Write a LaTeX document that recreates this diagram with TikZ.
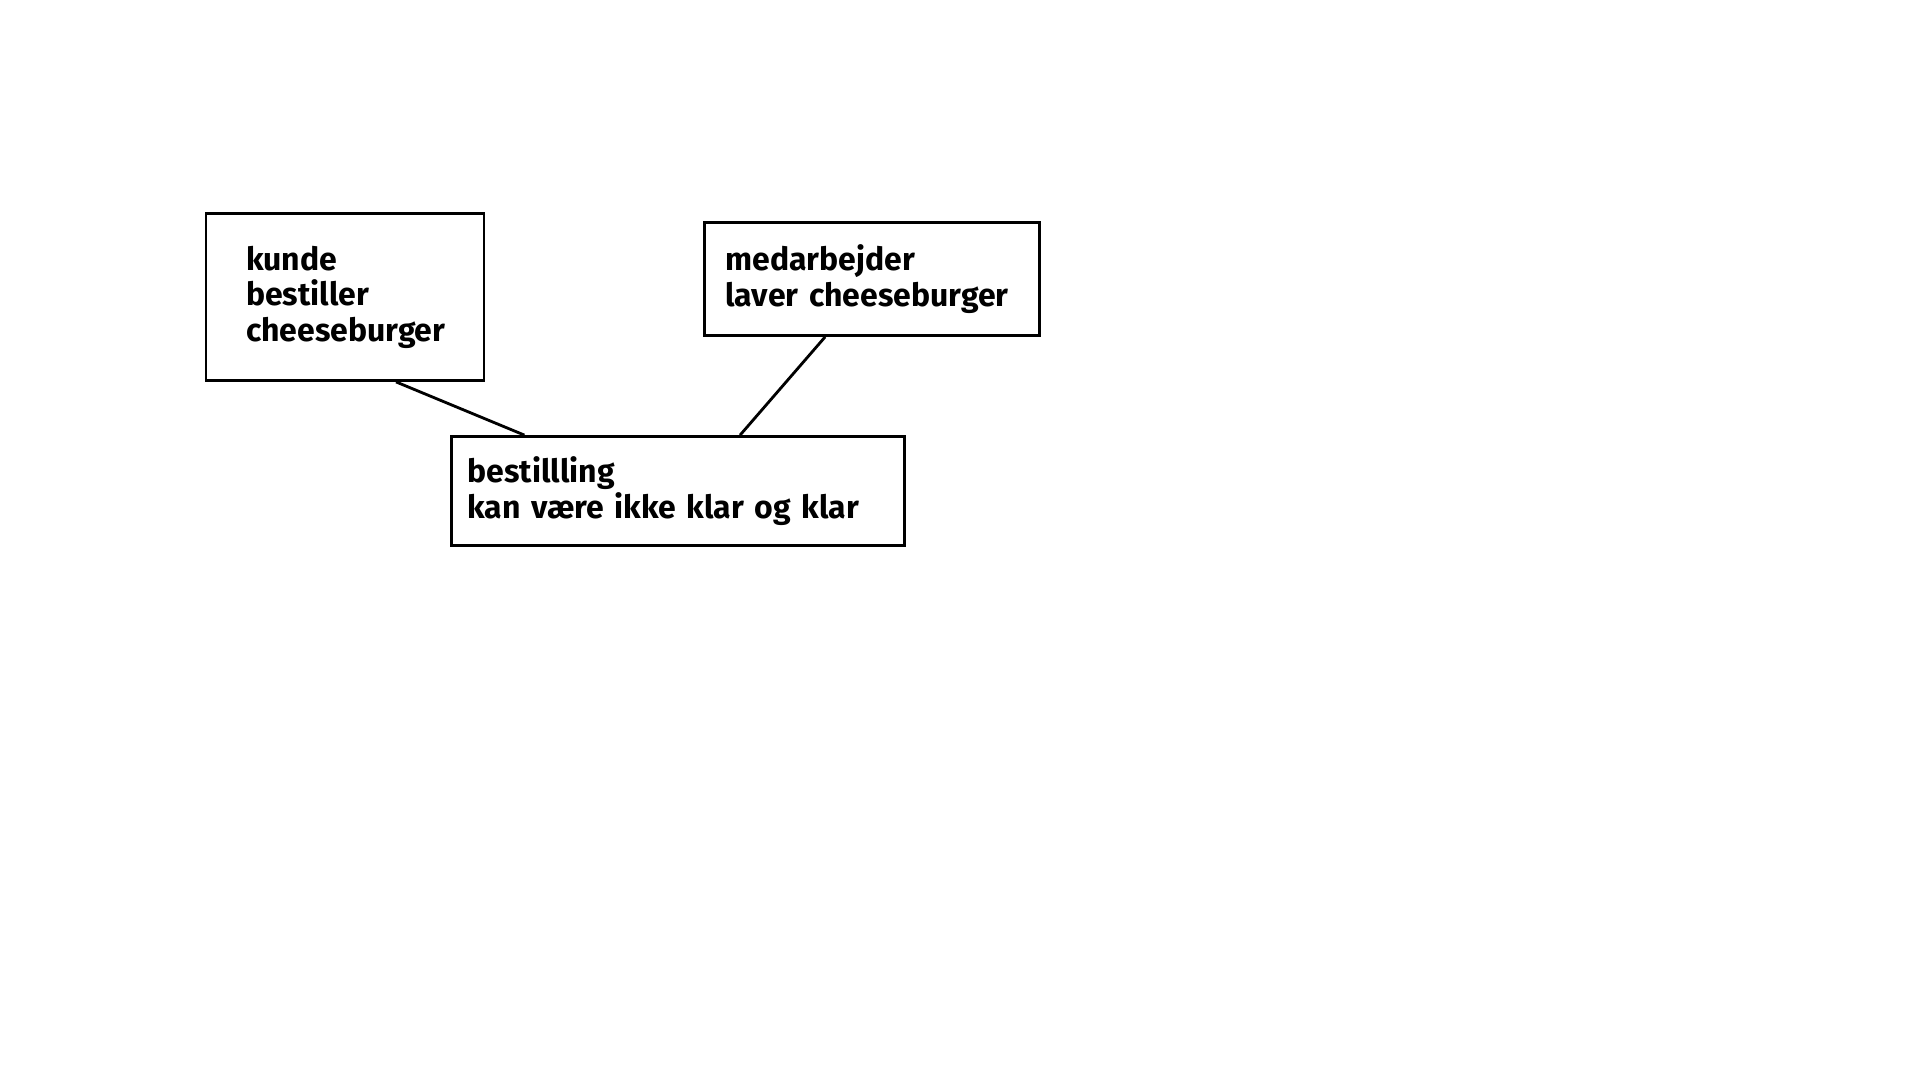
\documentclass[tikz,border=0pt]{standalone}
\usepackage{fontspec}
\setmainfont{Fira Sans}
\usepackage{tikz}

\begin{document}
\begin{tikzpicture}[every node/.style={draw, line width=0.8pt, align=left, font=\bfseries\fontsize{9.1}{10.1}\selectfont}]
     \useasboundingbox (0,0) rectangle (19.2,-10.8);
     \node[text width=1.98cm, inner xsep=0.4cm, minimum height=1.67cm] (kunde) at (3.45,-2.97) {kunde\\bestiller\\cheeseburger};
     \node[text width=2.93cm, inner xsep=0.21cm, minimum height=1.13cm] (medarb) at (8.72,-2.79) {medarbejder\\laver cheeseburger};
     \node[text width=4.21cm, inner xsep=0.16cm, minimum height=1.09cm] (bestil) at (6.78,-4.91) {bestillling\\kan være ikke klar og klar};

     \draw[line width=0.8pt] (kunde.-59) -- (bestil.160);
     \draw[line width=0.8pt] (medarb.-129) -- (bestil.42);
    \end{tikzpicture}
\end{document}
